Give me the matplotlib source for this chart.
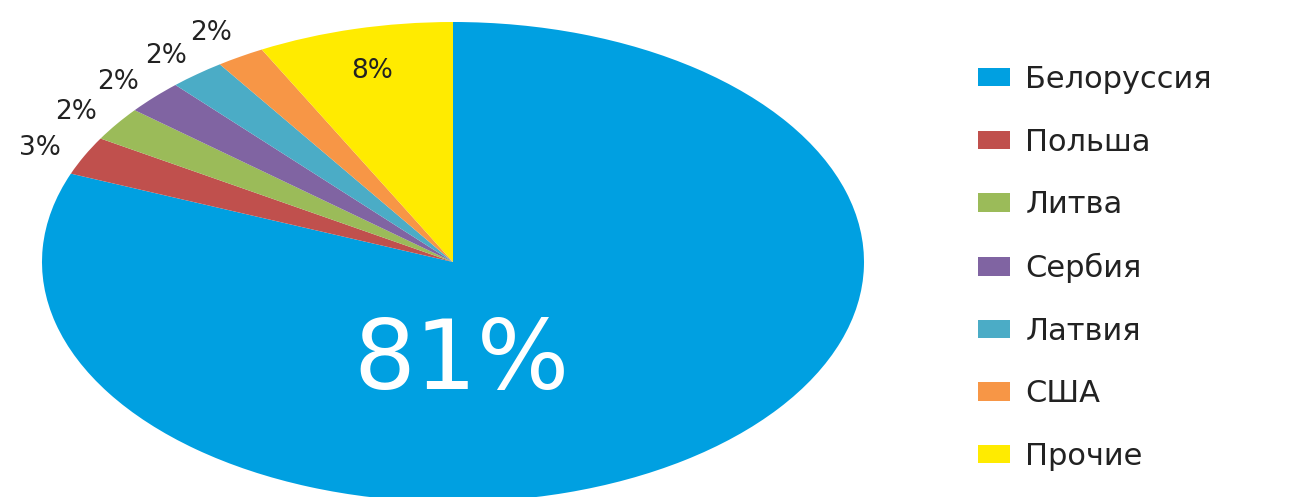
import matplotlib
matplotlib.use("Agg")
import matplotlib.pyplot as plt
import numpy as np

categories = ["Белоруссия", "Польша", "Литва", "Сербия", "Латвия", "США", "Прочие"]
values = [81.0, 2.6, 2.3, 2.3, 2.2, 1.9, 7.7]
colors = ["#00A0E1", "#C0504D", "#9BBB59", "#8064A2", "#4BACC6", "#F79646", "#FFEB00"]

plt.rcParams['font.family'] = ['DejaVu Sans']

fig = plt.figure(figsize=(13.07, 4.97), dpi=100)
ax = fig.add_axes([42/1307, 1 - 502/497, 822/1307, 480/497])

wedges, texts, autotexts = ax.pie(values, colors=colors, startangle=90, counterclock=False,
                                  autopct='%.0f%%', pctdistance=1.12, radius=1.0,
                                  textprops=dict(fontsize=19, color='#222222'))
ax.set_aspect('auto')
ax.set_xlim(-1, 1)
ax.set_ylim(-1, 1)

# label distances per wedge
for i, (w, t) in enumerate(zip(wedges, autotexts)):
    ang = np.deg2rad((w.theta1 + w.theta2) / 2)
    if i == 0:
        t.set_position((0.02, -0.42))
        t.set_fontsize(70)
        t.set_color('white')
    elif i == len(wedges) - 1:
        d = 0.82
        t.set_position((d * np.cos(ang), d * np.sin(ang)))
    else:
        d = 1.12 if i < 5 else 1.14
        t.set_position((d * np.cos(ang), d * np.sin(ang) - 0.02))
    t.set_ha('center'); t.set_va('center')

leg = fig.legend(wedges, categories, loc='upper left',
                 bbox_to_anchor=(978/1307, 1 - 65/497), frameon=False,
                 fontsize=22, handlelength=1.05, handleheight=0.55,
                 handletextpad=0.5, labelspacing=1.1, borderpad=0, borderaxespad=0)
for t in leg.get_texts():
    t.set_color('#222222')

fig.savefig("out.png", dpi=100)
